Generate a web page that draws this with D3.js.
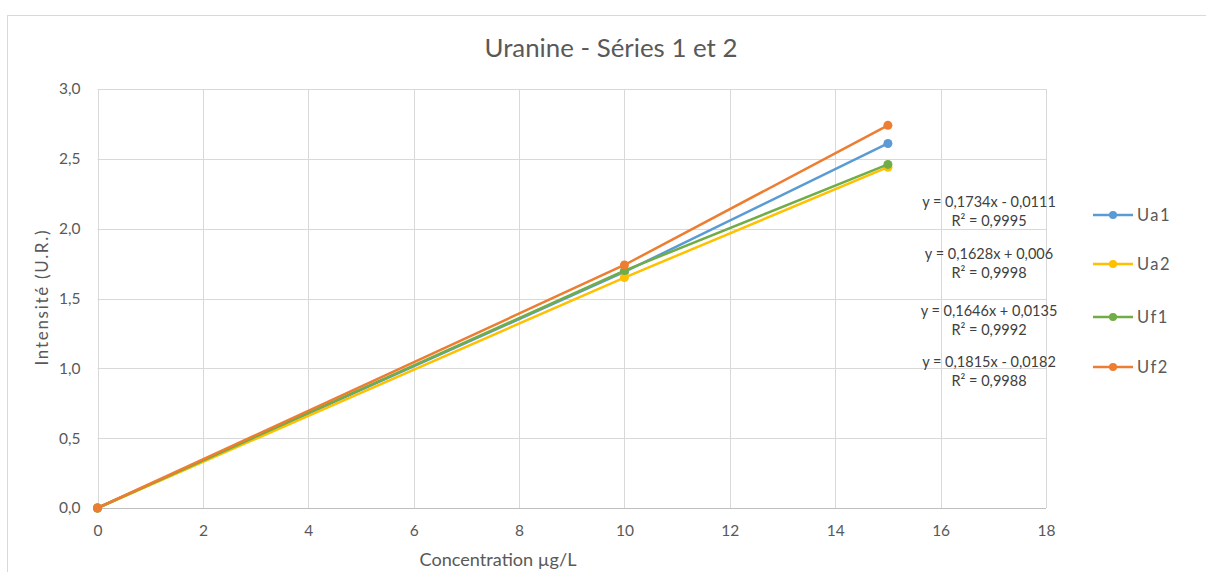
<!DOCTYPE html>
<html>
<head>
<meta charset="utf-8">
<script src="https://cdn.jsdelivr.net/npm/d3@7"></script>
<style>
  html, body { margin: 0; padding: 0; background: #ffffff; }
  svg { display: block; }
  text { font-family: Lato, "Open Sans", sans-serif; }
</style>
</head>
<body>
<svg id="chart" width="1206" height="572"></svg>
<script>
// ---- data ----
const concentrations = [0, 10, 15];
const seriesNames = ["Ua1", "Ua2", "Uf1", "Uf2"];
const ua1 = [0, 1.69, 2.61];
const ua2 = [0, 1.65, 2.44];
const uf1 = [0, 1.70, 2.46];
const uf2 = [0, 1.74, 2.74];
const seriesColors = ["#5B9BD5", "#FFC000", "#70AD47", "#ED7D31"];
const equations = ["y = 0,1734x - 0,0111", "y = 0,1628x + 0,006", "y = 0,1646x + 0,0135", "y = 0,1815x - 0,0182"];
const r2Labels = ["R² = 0,9995", "R² = 0,9998", "R² = 0,9992", "R² = 0,9988"];
const xTicks = [0, 2, 4, 6, 8, 10, 12, 14, 16, 18];
const yTicks = [0, 0.5, 1.0, 1.5, 2.0, 2.5, 3.0];
const titleText = "Uranine - Séries 1 et 2";
const xTitle = "Concentration µg/L";
const yTitle = "Intensité (U.R.)";

const seriesValues = [ua1, ua2, uf1, uf2];
const series = seriesNames.map((n, i) => ({
  name: n, color: seriesColors[i],
  points: concentrations.map((c, j) => ({ x: c, y: seriesValues[i][j] }))
}));

const svg = d3.select("#chart");
const plot = { left: 97.5, right: 1046, top: 89, bottom: 508 };

// chart border
svg.append("rect").attr("x", 7.5).attr("y", 15.5).attr("width", 1230).attr("height", 600)
  .attr("fill", "#fff").attr("stroke", "#d9d9d9").attr("stroke-width", 1);

const x = d3.scaleLinear().domain([0, 18]).range([plot.left, plot.right]);
const y = d3.scaleLinear().domain([0, 3]).range([plot.bottom, plot.top]);
const fmt = d => d3.format(".1f")(d).replace(".", ",");

// gridlines
svg.append("g").selectAll("line").data(yTicks).join("line")
  .attr("x1", plot.left).attr("x2", plot.right)
  .attr("y1", d => Math.round(y(d)) + 0.5).attr("y2", d => Math.round(y(d)) + 0.5)
  .attr("stroke", d => d === 0 ? "#bfbfbf" : "#d9d9d9").attr("stroke-width", 1);
svg.append("g").selectAll("line").data(xTicks).join("line")
  .attr("y1", plot.top).attr("y2", plot.bottom)
  .attr("x1", d => Math.round(x(d)) + 0.5).attr("x2", d => Math.round(x(d)) + 0.5)
  .attr("stroke", "#d9d9d9").attr("stroke-width", 1);

// axes labels via d3 axes (no lines)
const yAxis = svg.append("g").attr("transform", `translate(${plot.left - 17},0)`)
  .call(d3.axisLeft(y).tickValues(yTicks).tickFormat(fmt).tickSize(0).tickPadding(0));
yAxis.select(".domain").remove();
yAxis.selectAll("text").attr("fill", "#595959").style("font-size", "15.5px").style("font-family", "Lato, sans-serif");

const xAxis = svg.append("g").attr("transform", `translate(0,${plot.bottom + 17})`)
  .call(d3.axisBottom(x).tickValues(xTicks).tickFormat(d3.format("d")).tickSize(0).tickPadding(0));
xAxis.select(".domain").remove();
xAxis.selectAll("text").attr("fill", "#595959").style("font-size", "15.5px").style("font-family", "Lato, sans-serif");

// lines
const line = d3.line().x(d => x(d.x)).y(d => y(d.y));
const g = svg.append("g");
series.forEach(s => {
  g.append("path").datum(s.points).attr("d", line)
    .attr("fill", "none").attr("stroke", s.color).attr("stroke-width", 2.5).attr("stroke-linejoin", "round");
  g.selectAll(null).data(s.points).join("circle")
    .attr("cx", d => x(d.x)).attr("cy", d => y(d.y)).attr("r", 4.5)
    .attr("fill", s.color);
});

// title
svg.append("text").attr("x", 611).attr("y", 57).attr("text-anchor", "middle")
  .attr("fill", "#595959").style("font-size", "25px")
  .attr("textLength", 253).attr("lengthAdjust", "spacingAndGlyphs").text(titleText);

// axis titles
svg.append("text").attr("x", 498).attr("y", 566).attr("text-anchor", "middle")
  .attr("fill", "#595959").style("font-size", "17.5px")
  .attr("textLength", 157).attr("lengthAdjust", "spacingAndGlyphs").text(xTitle);
svg.append("text").attr("transform", "translate(48,298) rotate(-90)").attr("text-anchor", "middle")
  .attr("fill", "#595959").style("font-size", "17px")
  .attr("textLength", 135).attr("lengthAdjust", "spacing").text(yTitle);

// trendline equations
const eqY = [207, 259, 316, 367];
equations.forEach((e, i) => {
  svg.append("text").attr("x", 989).attr("y", eqY[i]).attr("text-anchor", "middle")
    .attr("fill", "#404040").style("font-size", "14.5px").text(e);
  svg.append("text").attr("x", 989).attr("y", eqY[i] + 19).attr("text-anchor", "middle")
    .attr("fill", "#404040").style("font-size", "14.5px").text(r2Labels[i]);
});

// legend
const legY = [215, 264, 317, 367];
series.forEach((s, i) => {
  const lg = svg.append("g").attr("transform", `translate(1093,${legY[i]})`);
  lg.append("line").attr("x1", 0).attr("x2", 40).attr("y1", 0).attr("y2", 0)
    .attr("stroke", s.color).attr("stroke-width", 2.5);
  lg.append("circle").attr("cx", 20).attr("cy", 0).attr("r", 4).attr("fill", s.color);
  lg.append("text").attr("x", 44).attr("y", 6).attr("fill", "#595959")
    .style("font-size", "16.5px").style("letter-spacing", "1.5px").text(s.name);
});
</script>
</body>
</html>
